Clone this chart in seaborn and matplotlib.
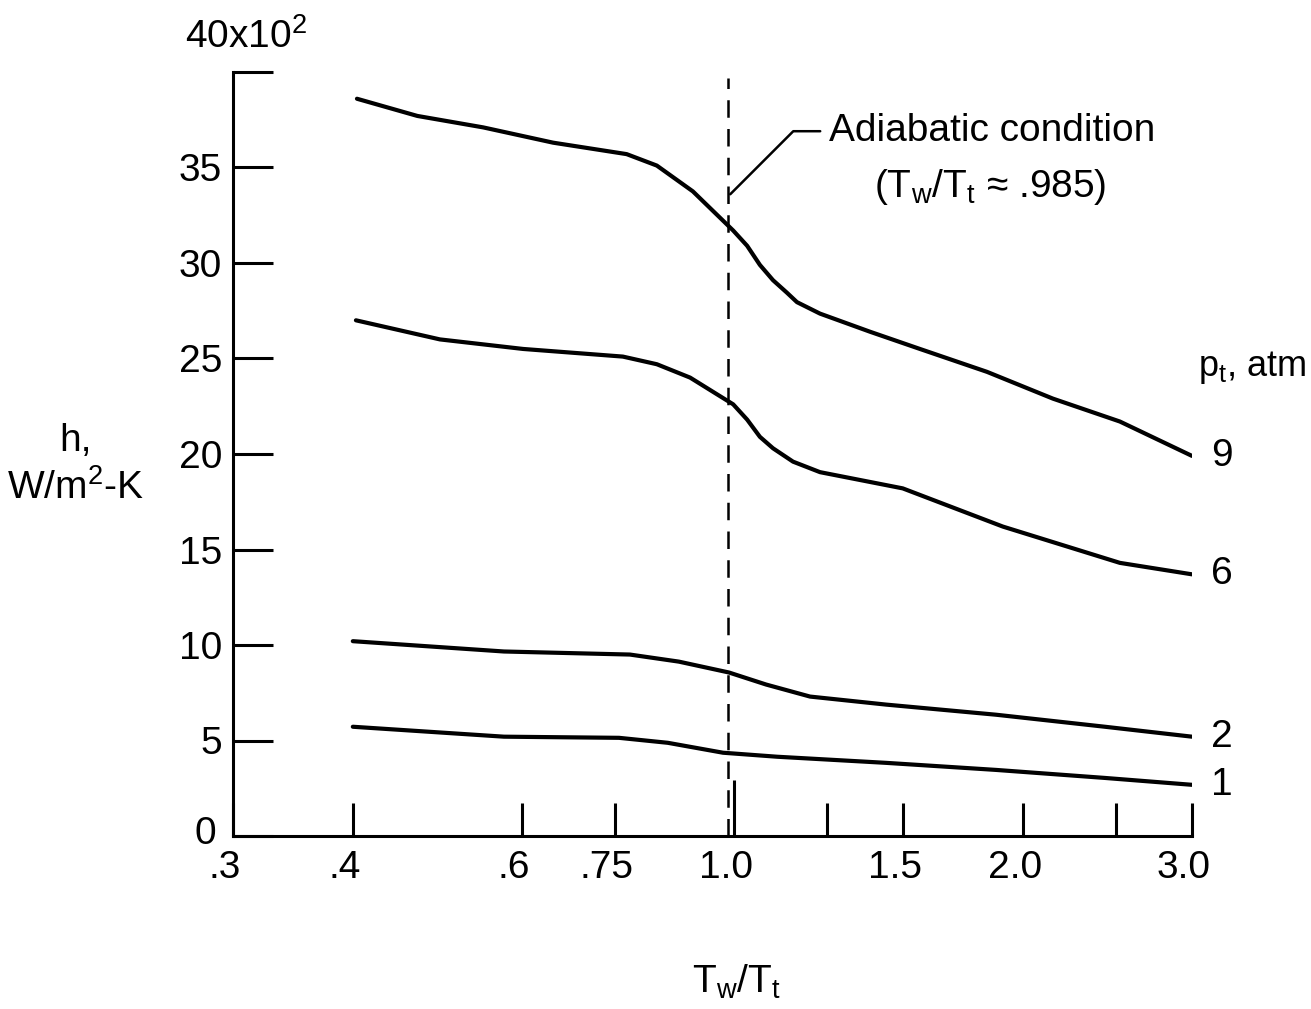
import numpy as np
import pandas as pd
import matplotlib
matplotlib.use("Agg")
import matplotlib.pyplot as plt
import matplotlib.transforms as mtransforms
from matplotlib.ticker import FixedLocator, NullFormatter
import seaborn as sns

# ---- data (h in units of 10^2 W/m^2-K) ----
x_p9 = [0.404, 0.467, 0.547, 0.647, 0.772, 0.830, 0.905, 0.997, 1.031, 1.063, 1.097, 1.134, 1.162, 1.228, 1.385, 1.561, 1.834, 2.148, 2.523, 3.0]
h_p9 = [38.6, 37.7, 37.1, 36.3, 35.7, 35.1, 33.75, 31.7, 30.9, 29.9, 29.1, 28.45, 27.95, 27.35, 26.4, 25.5, 24.3, 22.9, 21.7, 19.9]

x_p6 = [0.403, 0.493, 0.602, 0.765, 0.830, 0.899, 0.997, 1.031, 1.063, 1.097, 1.151, 1.228, 1.498, 1.905, 2.523, 3.0]
h_p6 = [27.0, 26.0, 25.5, 25.1, 24.7, 24.0, 22.6, 21.8, 20.9, 20.3, 19.6, 19.05, 18.2, 16.2, 14.3, 13.7]

x_p2 = [0.4, 0.575, 0.778, 0.875, 0.987, 1.079, 1.199, 1.439, 1.874, 2.434, 3.0]
h_p2 = [10.2, 9.66, 9.5, 9.13, 8.56, 7.93, 7.3, 6.88, 6.35, 5.72, 5.2]

x_p1 = [0.4, 0.575, 0.758, 0.852, 0.973, 1.108, 1.439, 1.874, 2.434, 3.0]
h_p1 = [5.72, 5.2, 5.14, 4.88, 4.36, 4.15, 3.83, 3.46, 3.04, 2.68]

pressures = ["9", "6", "2", "1"]
adiabatic_ratio = 0.985

xtick_values = [0.3, 0.4, 0.6, 0.75, 1.0, 1.5, 2.0, 3.0]
xtick_labels = [".3", ".4", ".6", ".75", "1.0", "1.5", "2.0", "3.0"]
xtick_minor = [1.25, 2.5]
ytick_values = [0, 5, 10, 15, 20, 25, 30, 35, 40]
ytick_labels = ["0", "5", "10", "15", "20", "25", "30", "35", ""]

series = {"9": (x_p9, h_p9), "6": (x_p6, h_p6), "2": (x_p2, h_p2), "1": (x_p1, h_p1)}
df = pd.concat(
    [pd.DataFrame({"ratio": xs, "h": hs, "pt": p}) for p, (xs, hs) in series.items()],
    ignore_index=True,
)

# ---- style ----
sns.set_theme(style="white")
plt.rcParams["font.family"] = ["Liberation Sans", "DejaVu Sans"]
plt.rcParams["mathtext.fontset"] = "custom"
plt.rcParams["mathtext.rm"] = "Liberation Sans"
plt.rcParams["mathtext.it"] = "Liberation Sans"
for k in ["text.color", "axes.labelcolor", "xtick.color", "ytick.color", "axes.edgecolor"]:
    plt.rcParams[k] = "black"
FS = 28

fig = plt.figure(figsize=(13.11, 10.09), dpi=100)
ax = fig.add_axes([233 / 1311, 173 / 1009, (1192 - 233) / 1311, (836 - 72) / 1009])

sns.lineplot(data=df, x="ratio", y="h", hue="pt", hue_order=pressures,
             palette=["black"] * 4, estimator=None, sort=True,
             linewidth=3.0, legend=False, ax=ax)

ax.set_xscale("log")
ax.set_xlim(0.3, 3.0)
ax.set_ylim(0, 40)
ax.set_xlabel("")
ax.set_ylabel("")

for s in ["top", "right"]:
    ax.spines[s].set_visible(False)
for s in ["left", "bottom"]:
    ax.spines[s].set_color("black")
    ax.spines[s].set_linewidth(2.2)

ax.xaxis.set_major_locator(FixedLocator(xtick_values))
ax.xaxis.set_minor_locator(FixedLocator(xtick_minor))
ax.xaxis.set_minor_formatter(NullFormatter())
ax.set_xticklabels(xtick_labels)
ax.set_yticks(ytick_values)
ax.set_yticklabels(ytick_labels)

ax.tick_params(axis="x", which="both", direction="in", length=24, width=2.2,
               color="black", labelcolor="black", labelsize=FS, pad=10, bottom=True)
ax.tick_params(axis="y", which="major", direction="in", length=29, width=2.2,
               color="black", labelcolor="black", labelsize=FS, pad=8, left=True)

# longer tick at 1.0
for t in ax.xaxis.get_major_ticks():
    if abs(t.get_loc() - 1.0) < 1e-9:
        t.tick1line.set_markersize(40)

offset = mtransforms.ScaledTranslation(-8 / 100, 0, fig.dpi_scale_trans)
for lab in ax.get_xticklabels():
    lab.set_transform(lab.get_transform() + offset)

# nudge the "0" label up and left slightly, as in the original
zero_off = mtransforms.ScaledTranslation(-6 / 100, 6 / 100, fig.dpi_scale_trans)
ylabs = ax.get_yticklabels()
ylabs[0].set_transform(ylabs[0].get_transform() + zero_off)

# adiabatic dashed line
ax.vlines(adiabatic_ratio, 0, 39.7, colors="black", linewidth=1.8,
          linestyles=(0, (7, 4.5)))

ax.annotate("Adiabatic condition", xy=(0.99, 33.6), xytext=(1.255, 36.9),
            fontsize=FS, ha="left", va="center", color="black",
            arrowprops=dict(arrowstyle="-", color="black", lw=1.8,
                            connectionstyle="angle,angleA=0,angleB=45",
                            shrinkA=4, shrinkB=0, relpos=(0, 0.5)))
ax.text(1.85, 34.0, r"(T$_\mathrm{w}$/T$_\mathrm{t}$ ≈ .985)", fontsize=FS,
        ha="center", va="center", color="black")

# curve labels from data ends
for p, (xs, hs) in series.items():
    ax.text(xs[-1] * 1.075, hs[-1], p, fontsize=FS, ha="center", va="center",
            clip_on=False, color="black")

# axis labels and extra texts
fig.text(1306 / 1311, 1 - 368 / 1009, r"p$_\mathrm{t}$, atm", fontsize=26,
         ha="right", va="center", color="black")
fig.text(185 / 1311, 1 - 37 / 1009, r"40x10$^2$", fontsize=FS, ha="left",
         va="center", color="black")
fig.text(75 / 1311, 1 - 465 / 1009, "h,\n" + r"W/m$^2$-K", fontsize=FS,
         ha="center", va="center", linespacing=1.35, color="black")
fig.text(737 / 1311, 1 - 982 / 1009, r"T$_\mathrm{w}$/T$_\mathrm{t}$", fontsize=FS,
         ha="center", va="center", color="black")

fig.savefig("out.png", dpi=100)
